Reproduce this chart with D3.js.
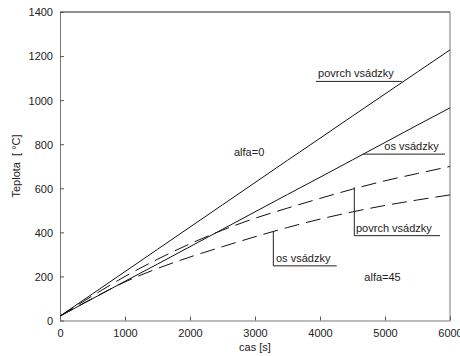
<!DOCTYPE html>
<html>
<head>
<meta charset="utf-8">
<script src="https://cdn.jsdelivr.net/npm/d3@7"></script>
<style>
  body { margin: 0; background: #fff; }
  svg { display: block; font-family: Arial, "Liberation Sans", sans-serif; }
</style>
</head>
<body>
<div id="chart"></div>
<script>
// time axis samples [s]
const times = [0, 500, 1000, 1500, 2000, 2500, 3000, 3500, 4000, 4500, 5000, 5500, 6000];

// alfa=0 (solid)
const surface0 = [20, 121, 222, 323, 424, 525, 626, 727, 827, 928, 1028, 1128, 1228];
const core0 = [20, 99, 178, 256, 335, 414, 493, 572, 650, 729, 808, 887, 965];
// alfa=45 (dashed)
const surface45 = [20, 112, 200, 278, 348, 410, 464, 510, 554, 596, 634, 667, 699];
const core45 = [20, 100, 175, 236, 288, 335, 380, 422, 460, 493, 522, 547, 570];

const xTicks = [0, 1000, 2000, 3000, 4000, 5000, 6000];
const yTicks = [0, 200, 400, 600, 800, 1000, 1200, 1400];

const series = [
  { values: surface0, dash: null },
  { values: core0, dash: null },
  { values: surface45, dash: "15,7" },
  { values: core45, dash: "15,7" },
];

// label leaders in data units
const leaders = [
  { text: "povrch vsádzky", tx: 3970, pts: [[3938, 1085], [5257, 1085]] },
  { text: "os vsádzky", tx: 4989, pts: [[4666, 755], [5923, 755]] },
  { text: "povrch vsádzky", tx: 4554, pts: [[4528, 604], [4528, 385], [5846, 385]] },
  { text: "os vsádzky", tx: 3323, pts: [[3282, 404], [3282, 248], [4257, 248]] },
];
const notes = [
  { text: "alfa=0", x: 2677, y: 748 },
  { text: "alfa=45", x: 4682, y: 177 },
];

const W = 460, H = 356;
const plotL = 60, plotR = 450, plotT = 12, plotB = 320.5;

const svg = d3.select("#chart").append("svg")
  .attr("width", W).attr("height", H);

const x = d3.scaleLinear().domain([0, 6000]).range([plotL, plotR]);
const y = d3.scaleLinear().domain([0, 1400]).range([plotB, plotT]);

// box
svg.append("line").attr("x1", plotL).attr("x2", plotR).attr("y1", plotT).attr("y2", plotT)
  .attr("stroke", "#222");
svg.append("line").attr("x1", plotR).attr("x2", plotR).attr("y1", plotT).attr("y2", plotB)
  .attr("stroke", "#777");

// axes
const xAxis = d3.axisBottom(x).tickValues(xTicks).tickFormat(d3.format("d"))
  .tickSizeInner(-4).tickSizeOuter(0).tickPadding(9);
const yAxis = d3.axisLeft(y).tickValues(yTicks).tickFormat(d3.format("d"))
  .tickSizeInner(-4).tickSizeOuter(0).tickPadding(7);

const gx = svg.append("g").attr("transform", `translate(0,${plotB})`).call(xAxis);
const gy = svg.append("g").attr("transform", `translate(${plotL},0)`).call(yAxis);

[gx, gy].forEach(g => {
  g.select(".domain").attr("stroke", "#777");
  g.selectAll(".tick line").attr("stroke", "#555");
  g.selectAll(".tick text").attr("fill", "#222").attr("font-size", 11)
    .attr("font-family", "Arial, 'Liberation Sans', sans-serif");
});
gy.selectAll(".tick text").attr("dy", "0.35em");

// curves
const line = d3.line()
  .x((d, i) => x(times[i]))
  .y(d => y(d))
  .curve(d3.curveMonotoneX);

svg.append("g").selectAll("path")
  .data(series)
  .enter()
  .append("path")
  .attr("d", d => line(d.values))
  .attr("fill", "none")
  .attr("stroke", "#111")
  .attr("stroke-width", 1)
  .attr("stroke-dasharray", d => d.dash);

// label leaders
const lead = d3.line().x(d => x(d[0])).y(d => y(d[1]));
const lg = svg.append("g");
lg.selectAll("path")
  .data(leaders)
  .enter()
  .append("path")
  .attr("d", d => lead(d.pts))
  .attr("fill", "none")
  .attr("stroke", "#222")
  .attr("stroke-width", 1);
lg.selectAll("text")
  .data(leaders)
  .enter()
  .append("text")
  .attr("x", d => x(d.tx))
  .attr("y", d => y(d.pts[d.pts.length - 1][1]) - 4)
  .attr("font-size", 11)
  .attr("fill", "#222")
  .text(d => d.text);

svg.append("g").selectAll("text")
  .data(notes)
  .enter()
  .append("text")
  .attr("x", d => x(d.x))
  .attr("y", d => y(d.y))
  .attr("font-size", 11)
  .attr("fill", "#222")
  .text(d => d.text);

// axis titles
svg.append("text")
  .attr("x", 255).attr("y", 351)
  .attr("text-anchor", "middle")
  .attr("font-size", 11).attr("fill", "#222")
  .text("cas [s]");

svg.append("text")
  .attr("transform", "translate(20,166) rotate(-90)")
  .attr("text-anchor", "middle")
  .attr("font-size", 11).attr("fill", "#222")
  .attr("xml:space", "preserve")
  .text("Teplota  [ °C]");
</script>
</body>
</html>
